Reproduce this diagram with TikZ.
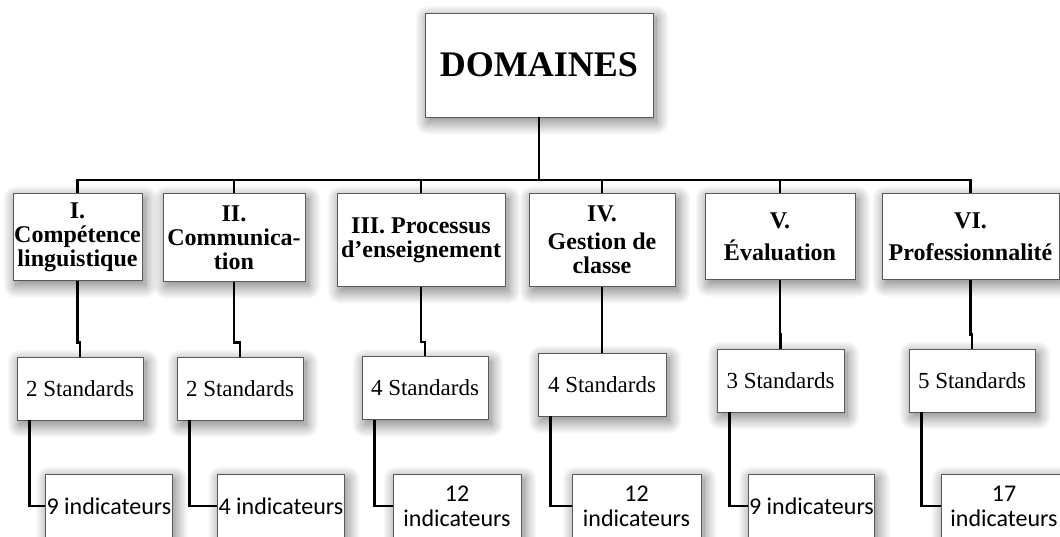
\documentclass[tikz,border=0pt]{standalone}
\usepackage{fontspec}
\setmainfont{Liberation Serif}
\newfontfamily\calib{Carlito}
\usetikzlibrary{calc, shadows.blur}

\begin{document}
\begin{tikzpicture}[x=1pt, y=1pt]

    \tikzstyle{whitebox}=[rectangle, draw=black!65, line width=0.8pt, fill=white, align=center, inner sep=1pt, blur shadow={shadow xshift=3pt, shadow yshift=-5pt, shadow blur radius=13pt, shadow blur steps=25, shadow opacity=55}];
    \tikzstyle{domainbox}=[whitebox, anchor=north, font=\fontsize{24}{24}\selectfont\bfseries];
    \tikzstyle{stdbox}=[whitebox, minimum width=126pt, minimum height=63pt, font=\fontsize{23}{24}\selectfont];
    \tikzstyle{indicbox}=[whitebox, minimum width=126pt, minimum height=64pt, font=\calib\fontsize{24}{25}\selectfont];
    \tikzstyle{treeline}=[line width=2.5pt, black];

    \useasboundingbox (0,0) rectangle (1060,536);
    \clip (0,0) rectangle (1060,536);

    \node[whitebox, minimum width=228pt, minimum height=104pt, font=\fontsize{36}{40}\selectfont\bfseries] (dom) at (539,471) {DOMAINES};

    \node[domainbox, minimum width=129pt, minimum height=87pt] (d1) at (77.5,343) {I.\\Compétence\\linguistique};
    \node[domainbox, minimum width=142pt, minimum height=88pt] (d2) at (234,343) {II.\\Communica-\\tion};
    \node[domainbox, minimum width=168pt, minimum height=93pt] (d3) at (421,343) {III. Processus\\d’enseignement};
    \node[domainbox, minimum width=146pt, minimum height=93pt] (d4) at (602,343) {IV.\\[4pt]Gestion de\\classe};
    \node[domainbox, minimum width=150pt, minimum height=86pt] (d5) at (780,343) {V.\\[8pt]Évaluation};
    \node[domainbox, minimum width=177pt, minimum height=86pt] (d6) at (970.5,343) {VI.\\[8pt]Professionnalité};

    \node[stdbox] (s1) at (80,147.5) {2 Standards};
    \node[stdbox] (s2) at (240,147.5) {2 Standards};
    \node[stdbox] (s3) at (425,148) {4 Standards};
    \node[stdbox, minimum width=128pt] (s4) at (602,151.5) {4 Standards};
    \node[stdbox, minimum width=127pt] (s5) at (780.5,155.5) {3 Standards};
    \node[stdbox] (s6) at (972,155.5) {5 Standards};

    \node[indicbox] (i1) at (109,30) {9 indicateurs};
    \node[indicbox] (i2) at (281,30) {4 indicateurs};
    \node[indicbox, minimum width=128pt] (i3) at (457,30) {12\\indicateurs};
    \node[indicbox, minimum width=129pt] (i4) at (636.5,30) {12\\indicateurs};
    \node[indicbox, minimum width=125pt] (i5) at (811.5,30) {9 indicateurs};
    \node[indicbox] (i6) at (1004,30) {17\\indicateurs};

    % tree lines
    \draw[treeline] (dom.south) -- (dom.south |- 0,356);
    \draw[treeline] (d1.north) -- ++(0,13) -| (d6.north);
    \foreach \n in {2,...,5}
        \draw[treeline] (d\n.north) -- ++(0,13);

    \foreach \n in {1,...,6}
        \draw[treeline] (d\n.south) -- ($(d\n.south |- s\n.north)+(0,14)$) -| (s\n.north);

    \foreach \n in {1,...,6}
        \draw[treeline] ([xshift=13pt]s\n.south west) |- (i\n.west);

\end{tikzpicture}
\end{document}
